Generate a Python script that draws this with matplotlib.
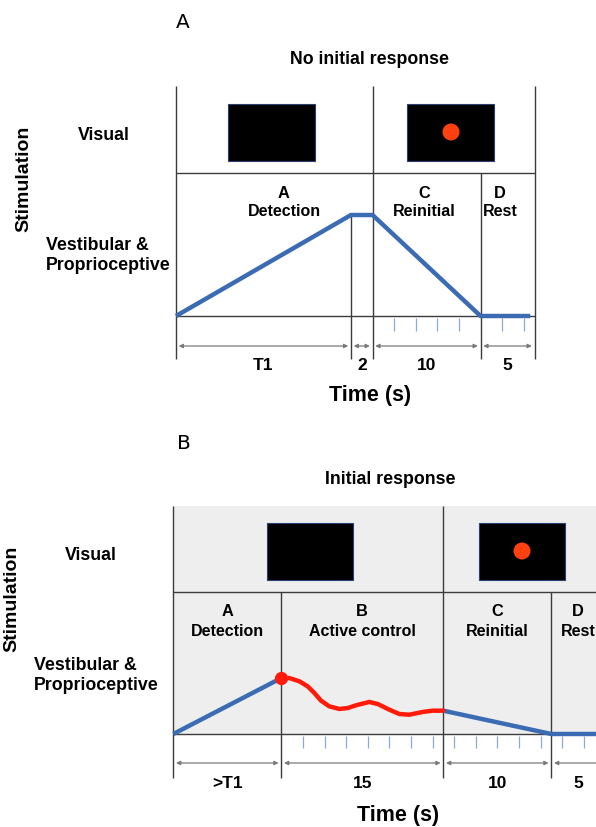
import matplotlib
matplotlib.use("Agg")
import matplotlib.pyplot as plt
import matplotlib.transforms as mtransforms
from matplotlib.patches import Rectangle, Circle
import numpy as np

W, H = 596, 827
PPS = 10.8    # pixels per second
UNIT = 101    # pixels per stimulation unit
BLUE = "#3b6cb3"
RED = "#ff1a0a"
LINE = "#3c3c3c"

plt.rcParams["font.family"] = ["Liberation Sans", "DejaVu Sans"]

# panel A: no initial response
phase_a = ["A", "", "C", "D"]
phase_name_a = ["Detection", "", "Reinitial", "Rest"]
phase_pos_a = [10.0, None, 23.0, 30.0]
dur_a = [16.2, 2, 10, 5]
dur_label_a = ["T1", "2", "10", "5"]
time_a = [0, 16.2, 18.2, 28.2, 32.8]
level_a = [0, 1, 1, 0, 0]

# panel B: initial response
phase_b = ["A", "B", "C", "D"]
phase_name_b = ["Detection", "Active control", "Reinitial", "Rest"]
dur_b = [10, 15, 10, 5]
dur_label_b = [">T1", "15", "10", "5"]
ramp_time_b = [0, 10]
ramp_level_b = [0, 0.554]
ctrl_time_b = [10.0, 10.74, 11.67, 12.44, 13.06, 13.68, 14.44, 15.37, 16.15,
               16.92, 17.38, 18.15, 18.93, 20.0, 20.93, 21.85, 23.09, 24.02, 25.0]
ctrl_level_b = [0.554, 0.554, 0.522, 0.472, 0.406, 0.330, 0.274, 0.248, 0.257,
                0.284, 0.297, 0.317, 0.297, 0.241, 0.198, 0.191, 0.218, 0.231, 0.231]
rest_time_b = [25, 35, 40]
rest_level_b = [0.231, 0, 0]

fig = plt.figure(figsize=(W / 100, H / 100), dpi=100)
# pixel coords, origin top-left
pix = mtransforms.Affine2D().scale(1 / W, -1 / H).translate(0, 1) + fig.transFigure


def make_panel(x0, base):
    ax = fig.add_axes([0, 0, 1, 1])
    ax.set_xlim(-x0 / PPS, (W - x0) / PPS)
    ax.set_ylim(-(H - base) / UNIT, base / UNIT)
    ax.axis("off")
    ax.patch.set_alpha(0)
    blend = mtransforms.blended_transform_factory(ax.transData, pix)
    return ax, blend


def label(x, y, s, size=12.8, weight="bold", **kw):
    fig.text(x / W, 1 - y / H, s, fontsize=size, fontweight=weight,
             ha=kw.pop("ha", "center"), va=kw.pop("va", "center"), **kw)


def screen(ax, x, y, w, h, dot=None):
    ax.add_patch(Rectangle((x, y), w, h, transform=pix, facecolor="black",
                           edgecolor="#2b3f70", lw=0.8, zorder=3))
    if dot:
        ax.add_patch(Circle(dot, 8.5, transform=pix, facecolor="#ff4010",
                            edgecolor="none", zorder=4))


def arrows(ax, blend, edges, y, labels, ylab):
    for i in range(len(edges) - 1):
        ax.annotate("", xy=(edges[i] + 0.25, y), xytext=(edges[i + 1] - 0.25, y),
                    xycoords=blend, textcoords=blend,
                    arrowprops=dict(arrowstyle="<|-|>", color="#7a7a7a", lw=0.9,
                                    mutation_scale=6, shrinkA=0, shrinkB=0))
        mid = (edges[i] + edges[i + 1]) / 2
        ax.text(mid, ylab, labels[i], transform=blend, fontsize=12.5,
                fontweight="bold", ha="center", va="center")


# ---------------- panel A ----------------
axA, blA = make_panel(176, 316)
edges_a = np.concatenate([[0], np.cumsum(dur_a)])

axA.vlines([edges_a[0], edges_a[2], edges_a[4]], 86, 359, transform=blA, color=LINE, lw=1)
axA.vlines(edges_a[1], 215, 359, transform=blA, color=LINE, lw=1)
axA.vlines(edges_a[3], 173, 359, transform=blA, color=LINE, lw=1)
axA.hlines([173, 316], edges_a[0], edges_a[4], transform=blA, color=LINE, lw=1)

ticks_a = [t for t in np.arange(edges_a[2] + 2, edges_a[4], 2) if abs(t - edges_a[3]) > 0.1]
axA.vlines(ticks_a, 318, 331, transform=blA, color="#8ea8d8", lw=0.9)
axA.plot(time_a, level_a, color=BLUE, lw=3.2, solid_capstyle="butt", zorder=5)

screen(axA, 228, 104, 87, 57)
screen(axA, 407, 104, 87, 57, dot=(451, 132))

for p, n, x in zip(phase_a, phase_name_a, phase_pos_a):
    if p:
        axA.text(x, 193, p, transform=blA, fontsize=11.8, fontweight="bold", ha="center", va="center")
        axA.text(x, 212, n, transform=blA, fontsize=11.5, fontweight="bold", ha="center", va="center")

arrows(axA, blA, edges_a, 346, dur_label_a, 365)

label(183, 23, "A", size=14.5, weight="normal", family="DejaVu Sans")
label(370, 59, "No initial response")
label(104, 136, "Visual")
label(46, 246, "Vestibular &", ha="left")
label(46, 266, "Proprioceptive", ha="left")
label(23.5, 179, "Stimulation", size=14, rotation=90)
label(370, 395, "Time (s)", size=15.5)

# ---------------- panel B ----------------
axB, blB = make_panel(173.3, 734)
edges_b = np.concatenate([[0], np.cumsum(dur_b)])

axB.add_patch(Rectangle((edges_b[0], 506), edges_b[-1] + 5, 228, transform=blB,
                        facecolor="#eeeeee", edgecolor="none", zorder=0))
axB.vlines([edges_b[0], edges_b[2]], 506, 778, transform=blB, color=LINE, lw=1)
axB.vlines([edges_b[1], edges_b[3]], 591.7, 778, transform=blB, color=LINE, lw=1)
axB.hlines([591.7, 734], edges_b[0], edges_b[-1] + 5, transform=blB, color=LINE, lw=1)

ticks_b = np.arange(edges_b[1] + 2, edges_b[-1], 2)
axB.vlines(ticks_b, 736, 748, transform=blB, color="#8ea8d8", lw=0.9)

axB.plot(ramp_time_b, ramp_level_b, color=BLUE, lw=3.2, solid_capstyle="butt", zorder=5)
axB.plot(rest_time_b, rest_level_b, color=BLUE, lw=3.2, solid_capstyle="butt", zorder=5)
axB.plot(ctrl_time_b, ctrl_level_b, color=RED, lw=3.2, solid_capstyle="round",
         solid_joinstyle="round", zorder=6)
axB.plot(ctrl_time_b[0], ctrl_level_b[0], "o", color=RED, ms=8.5, zorder=7)

screen(axB, 267, 523, 86, 57)
screen(axB, 479, 523, 86, 57, dot=(522, 551))

for i, (p, n) in enumerate(zip(phase_b, phase_name_b)):
    mid = (edges_b[i] + edges_b[i + 1]) / 2
    axB.text(mid, 612, p, transform=blB, fontsize=11.8, fontweight="bold", ha="center", va="center")
    axB.text(mid, 631, n, transform=blB, fontsize=11.5, fontweight="bold", ha="center", va="center")

arrows(axB, blB, edges_b, 763, dur_label_b, 783)

label(184, 443, "B", size=14.5, weight="normal", family="DejaVu Sans")
label(390, 479, "Initial response")
label(91, 556, "Visual")
label(33.5, 666, "Vestibular &", ha="left")
label(33.5, 686, "Proprioceptive", ha="left")
label(11.5, 599, "Stimulation", size=14, rotation=90)
label(398, 816, "Time (s)", size=15.5)

fig.savefig("out.png", dpi=100)
